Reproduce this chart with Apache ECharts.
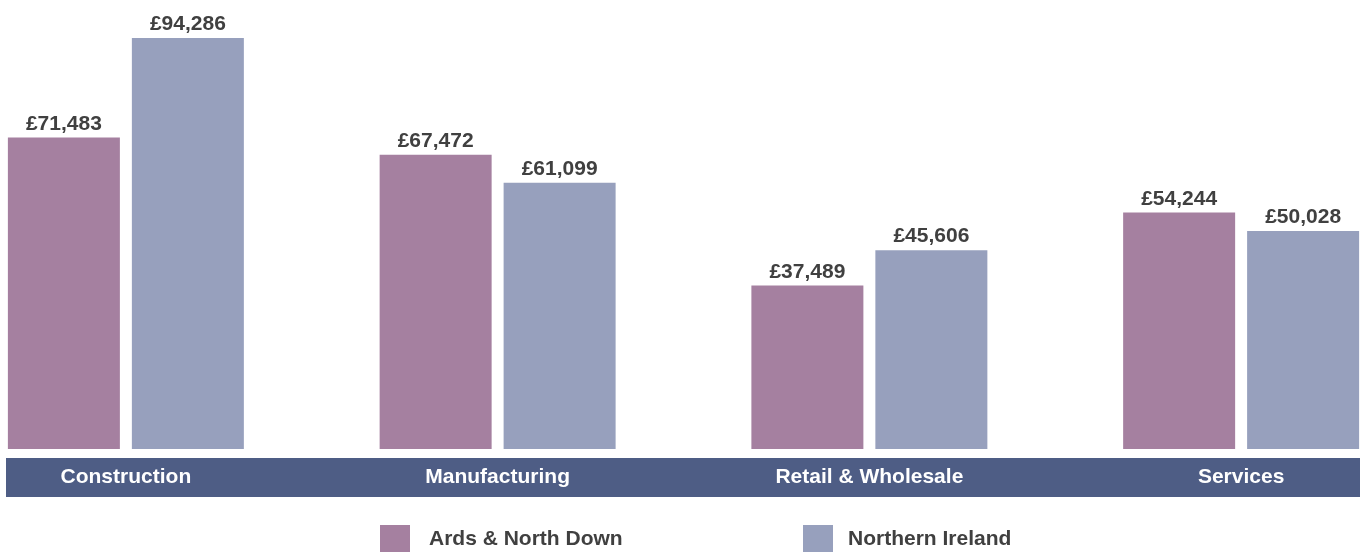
<!DOCTYPE html>
<html>
<head>
    <meta charset="utf-8">
    <title>GVA per employee</title>
    <style>
        html, body { margin: 0; padding: 0; background: #fff; }
        #main { width: 1362px; height: 552px; }
    </style>
</head>
<body>
    <div id="main"></div>
    <script src="https://cdn.jsdelivr.net/npm/echarts@6/dist/echarts.min.js"></script>
    <script type="text/javascript">

        const CATEGORIES = ['Construction', 'Manufacturing', 'Retail & Wholesale', 'Services'];
        const SERIES_NAMES = ['Ards & North Down', 'Northern Ireland'];
        const ARDS_VALUES = [71483, 67472, 37489, 54244];
        const NI_VALUES = [94286, 61099, 45606, 50028];

        const PINK = '#A580A0';
        const BLUE = '#97A0BD';
        const BAND = '#4E5D85';
        const TEXT = '#404040';
        const FONT = 'Liberation Sans, Arial, sans-serif';

        function money(v) {
            return '£' + v.toLocaleString('en-GB');
        }

        let myChart = echarts.init(document.getElementById('main'));

        function barSeries(name, data, color) {
            return {
                name: name,
                type: 'bar',
                data: data,
                barWidth: 112,
                barGap: '10.7%',
                itemStyle: { color: color },
                label: {
                    show: true,
                    position: 'top',
                    distance: 3,
                    color: TEXT,
                    fontWeight: 'bold',
                    fontSize: 21,
                    fontFamily: FONT,
                    formatter: function (p) {
                        return money(p.value);
                    }
                }
            };
        }

        // one legend per series so each can sit where the original puts it
        function legendAt(left, name, textGap) {
            return {
                left: left,
                top: 525,
                padding: 0,
                itemWidth: 30,
                itemHeight: 28,
                icon: 'rect',
                selectedMode: false,
                data: [name],
                textStyle: {
                    color: TEXT,
                    fontWeight: 'bold',
                    fontSize: 21,
                    fontFamily: FONT,
                    padding: [0, 0, 0, textGap]
                }
            };
        }

        var option = {
            animation: false,
            grid: {
                left: -60,
                right: -65,
                top: 0,
                bottom: 103,
                containLabel: false,
                outerBoundsMode: 'none'
            },
            legend: [
                legendAt(380, SERIES_NAMES[0], 14),
                legendAt(803, SERIES_NAMES[1], 10)
            ],
            graphic: [
                {
                    type: 'rect',
                    left: 6,
                    top: 458,
                    z: 0,
                    shape: { width: 1354, height: 39 },
                    style: { fill: BAND }
                }
            ],
            xAxis: {
                type: 'category',
                data: CATEGORIES,
                z: 10,
                axisLine: { show: false },
                axisTick: { show: false },
                axisLabel: {
                    interval: 0,
                    margin: 18,
                    color: '#ffffff',
                    fontWeight: 'bold',
                    fontSize: 21,
                    fontFamily: FONT
                }
            },
            yAxis: {
                type: 'value',
                min: 0,
                max: 103000,
                show: false,
                splitLine: { show: false }
            },
            series: [
                barSeries(SERIES_NAMES[0], ARDS_VALUES, PINK),
                barSeries(SERIES_NAMES[1], NI_VALUES, BLUE)
            ]
        };

        myChart.setOption(option);

    </script>
</body>
</html>
